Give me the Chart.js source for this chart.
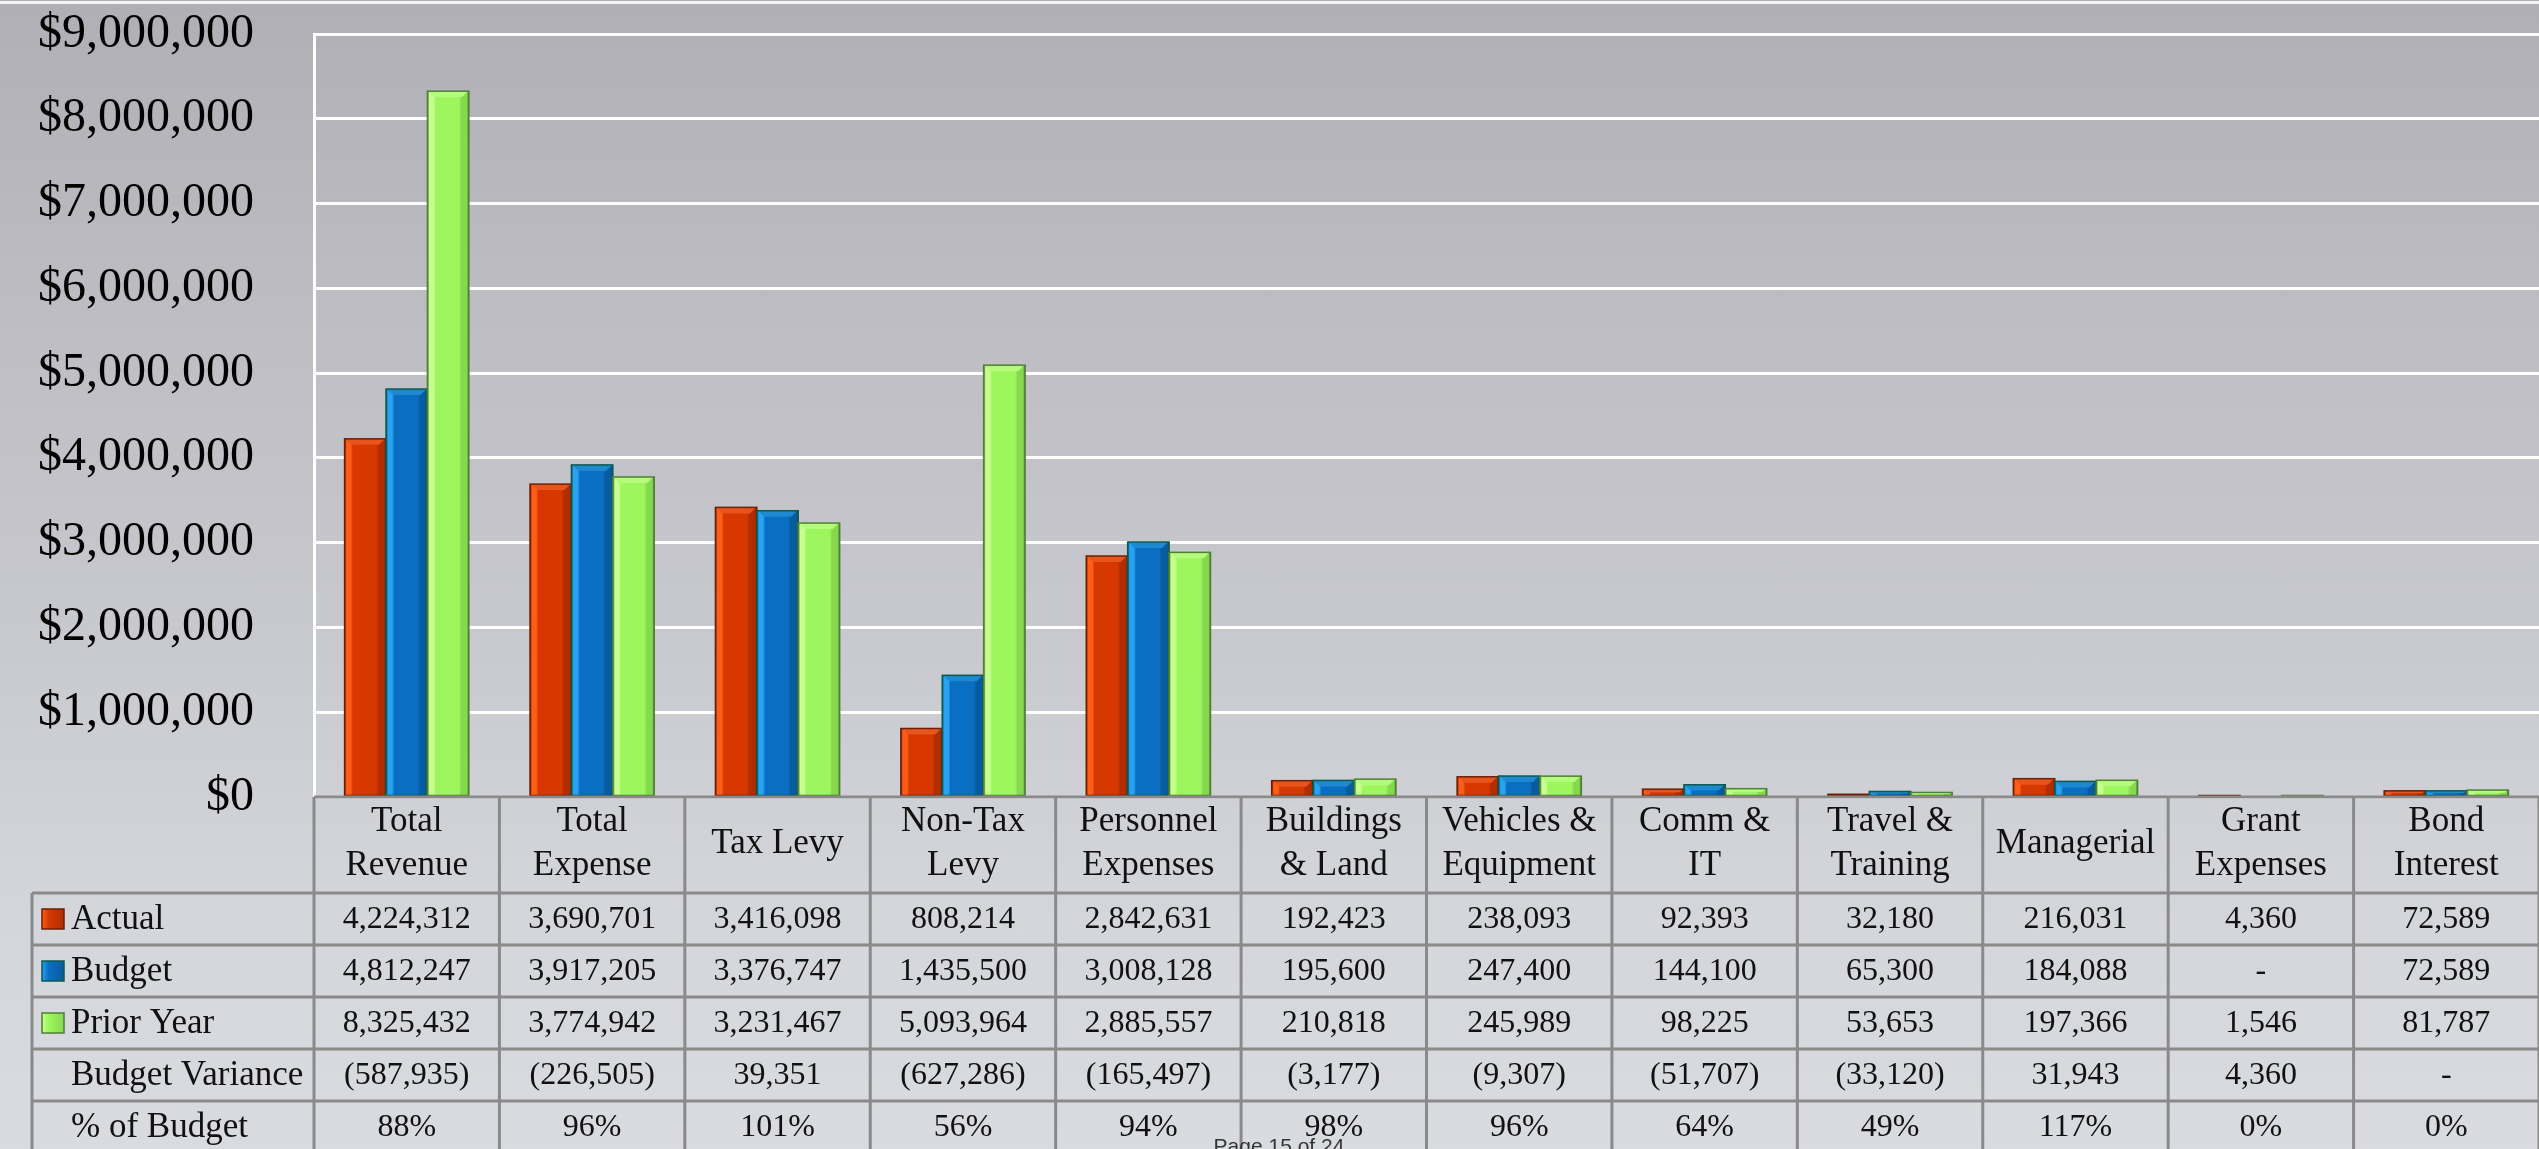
<!DOCTYPE html>
<html>
<head>
<meta charset="utf-8">
<title>Budget Summary</title>
<script src="https://cdn.jsdelivr.net/npm/chart.js@4.4.1/dist/chart.umd.min.js"></script>
<style>
    html, body { margin: 0; padding: 0; }
    body {
        width: 2539px; height: 1149px; overflow: hidden;
        background: linear-gradient(to bottom, #b0afb5 0%, #bebec4 30%, #c8c9cf 55%, #d4d6db 80%, #d9dbe0 100%);
    }
    #resumen { display: block; }
</style>
</head>
<body>
<canvas id="resumen" width="2539" height="1149"></canvas>
<script>
    var categorias = [
        ["Total", "Revenue"], ["Total", "Expense"], "Tax Levy", ["Non-Tax", "Levy"],
        ["Personnel", "Expenses"], ["Buildings", "& Land"], ["Vehicles &", "Equipment"],
        ["Comm &", "IT"], ["Travel &", "Training"], "Managerial", ["Grant", "Expenses"], ["Bond", "Interest"]
    ];
    var actual = [4224312, 3690701, 3416098, 808214, 2842631, 192423, 238093, 92393, 32180, 216031, 4360, 72589];
    var budget = [4812247, 3917205, 3376747, 1435500, 3008128, 195600, 247400, 144100, 65300, 184088, 0, 72589];
    var priorYear = [8325432, 3774942, 3231467, 5093964, 2885557, 210818, 245989, 98225, 53653, 197366, 1546, 81787];
    var budgetVariance = [-587935, -226505, 39351, -627286, -165497, -3177, -9307, -51707, -33120, 31943, 4360, 0];
    var pctOfBudget = [88, 96, 101, 56, 94, 98, 96, 64, 49, 117, 0, 0];
    var filas = ["Actual", "Budget", "Prior Year", "Budget Variance", "% of Budget"];
    var yMax = 9000000;
    var yPaso = 1000000;
    var pie = "Page 15 of 24";

    var serif = "'Liberation Serif', 'Times New Roman', serif";

    var estilos = [
        { cara: '#d63800', luz: '#ff5d18', sombra: '#b22e00', borde: '#6e1f05', bisel: '#e8551c' },
        { cara: '#0a6fc2', luz: '#28a2f2', sombra: '#075c9f', borde: '#0b5a50', bisel: '#1e88d0' },
        { cara: '#9df65e', luz: '#c6ff90', sombra: '#86d94e', borde: '#4e7f35', bisel: '#b4fb7c' }
    ];

    function formato(v) {
        if (v === 0) return '-';
        if (v < 0) return '(' + Math.abs(v).toLocaleString('en-US') + ')';
        return v.toLocaleString('en-US');
    }

    function bisel(c, bar, st) {
        var x0 = bar.x - bar.width / 2, x1 = bar.x + bar.width / 2;
        var y0 = Math.min(bar.y, bar.base), y1 = Math.max(bar.y, bar.base);
        if (y1 - y0 < 1) return;
        var g = c.createLinearGradient(x0, 0, x1, 0);
        g.addColorStop(0, st.borde);
        g.addColorStop(0.05, st.luz);
        g.addColorStop(0.15, st.luz);
        g.addColorStop(0.2, st.cara);
        g.addColorStop(0.76, st.cara);
        g.addColorStop(0.82, st.sombra);
        g.addColorStop(0.95, st.sombra);
        g.addColorStop(1, st.borde);
        c.fillStyle = g;
        c.fillRect(x0, y0, x1 - x0, y1 - y0);
        var b = Math.min(6, (y1 - y0) / 2);
        c.fillStyle = st.bisel;
        c.beginPath();
        c.moveTo(x0 + 1, y0);
        c.lineTo(x1 - 1, y0);
        c.lineTo(x1 - 1 - b, y0 + b);
        c.lineTo(x0 + 1 + b, y0 + b);
        c.closePath();
        c.fill();
        c.strokeStyle = st.borde;
        c.lineWidth = 1.5;
        c.strokeRect(x0, y0, x1 - x0, y1 - y0);
    }

    var tablaPlugin = {
        id: 'tabla',
        beforeDraw: function (chart) {
            var c = chart.ctx;
            c.save();
            c.fillStyle = '#f4f4f6';
            c.fillRect(0, 1, chart.width, 3);
            c.restore();
        },
        beforeDatasetsDraw: function (chart) {
            var c = chart.ctx;
            c.save();
            c.shadowColor = 'rgba(40, 40, 50, 0.6)';
            c.shadowBlur = 18;
            c.shadowOffsetX = 3;
        },
        afterDatasetsDraw: function (chart) {
            var c = chart.ctx;
            c.restore();
            c.save();
            chart.data.datasets.forEach(function (ds, d) {
                chart.getDatasetMeta(d).data.forEach(function (bar) {
                    bisel(c, bar, estilos[d]);
                });
            });
            c.restore();
        },
        afterDraw: function (chart) {
            var c = chart.ctx, area = chart.chartArea, xs = chart.scales.x;
            var n = categorias.length;
            var colW = (area.right - area.left) / n;
            var filaTop = area.bottom + 96, filaH = 52, izq = 32;
            var valores = [actual, budget, priorYear, budgetVariance];

            c.save();
            c.strokeStyle = '#8a8a8a';
            c.lineWidth = 3;
            c.beginPath();
            c.moveTo(area.left, area.bottom);
            c.lineTo(chart.width, area.bottom);
            for (var k = 0; k < 5; k++) {
                c.moveTo(izq, filaTop + k * filaH);
                c.lineTo(chart.width, filaTop + k * filaH);
            }
            c.moveTo(izq, filaTop);
            c.lineTo(izq, chart.height);
            for (var i = 0; i <= n; i++) {
                var bx = xs.getPixelForValue(i) - colW / 2;
                c.moveTo(bx, area.bottom);
                c.lineTo(bx, chart.height);
            }
            c.stroke();

            c.textBaseline = 'middle';
            for (var f = 0; f < filas.length; f++) {
                var cy = filaTop + f * filaH + filaH / 2;
                c.textAlign = 'left';
                c.fillStyle = '#111';
                c.font = '35px ' + serif;
                c.fillText(filas[f], 71, cy + 1);
                if (f < 3) {
                    var st = estilos[f];
                    var g = c.createLinearGradient(42, 0, 64, 0);
                    g.addColorStop(0, st.luz);
                    g.addColorStop(0.3, st.cara);
                    g.addColorStop(1, st.sombra);
                    c.fillStyle = g;
                    c.fillRect(42, cy - 10, 22, 20);
                    c.strokeStyle = st.borde;
                    c.lineWidth = 1.5;
                    c.strokeRect(42, cy - 10, 22, 20);
                }
                c.fillStyle = '#111';
                c.textAlign = 'center';
                c.font = '32px ' + serif;
                for (var j = 0; j < n; j++) {
                    var txt = f < 4 ? formato(valores[f][j]) : pctOfBudget[j] + '%';
                    c.fillText(txt, xs.getPixelForValue(j), cy + 1);
                }
            }

            c.font = "21px 'Liberation Sans', Arial, sans-serif";
            c.fillStyle = '#333';
            c.textAlign = 'center';
            c.textBaseline = 'alphabetic';
            c.fillText(pie, 1279, 1153);
            c.restore();
        }
    };

    var ctx = document.getElementById('resumen').getContext('2d');
    var myChart = new Chart(ctx, {
        type: 'bar',
        data: {
            labels: categorias,
            datasets: [{
                label: 'Actual',
                data: actual,
                backgroundColor: estilos[0].cara,
                borderColor: estilos[0].borde,
                borderWidth: 2
            }, {
                label: 'Budget',
                data: budget,
                backgroundColor: estilos[1].cara,
                borderColor: estilos[1].borde,
                borderWidth: 2
            }, {
                label: 'Prior Year',
                data: priorYear,
                backgroundColor: estilos[2].cara,
                borderColor: estilos[2].borde,
                borderWidth: 2
            }]
        },
        options: {
            responsive: false,
            animation: false,
            devicePixelRatio: 1,
            categoryPercentage: 0.67,
            barPercentage: 1.0,
            layout: { padding: { top: 34, left: 0, right: 0, bottom: 0 } },
            plugins: {
                legend: { display: false },
                tooltip: { enabled: false }
            },
            scales: {
                x: {
                    afterFit: function (s) { s.height = 352; },
                    border: { display: false },
                    grid: { display: false, drawTicks: false },
                    ticks: {
                        color: '#111',
                        padding: 25,
                        crossAlign: 'center',
                        maxRotation: 0,
                        autoSkip: false,
                        font: { family: serif, size: 35, lineHeight: 1.257 }
                    }
                },
                y: {
                    min: 0,
                    max: yMax,
                    afterFit: function (s) { s.width = 314; },
                    border: { color: '#ffffff', width: 3 },
                    grid: { color: '#ffffff', lineWidth: 3, drawTicks: true, tickLength: 60, tickColor: 'rgba(0,0,0,0)' },
                    ticks: {
                        stepSize: yPaso,
                        padding: 0,
                        color: '#000',
                        font: { family: serif, size: 48 },
                        callback: function (v) { return '$' + v.toLocaleString('en-US'); }
                    }
                }
            }
        },
        plugins: [tablaPlugin]
    });
</script>
</body>
</html>
